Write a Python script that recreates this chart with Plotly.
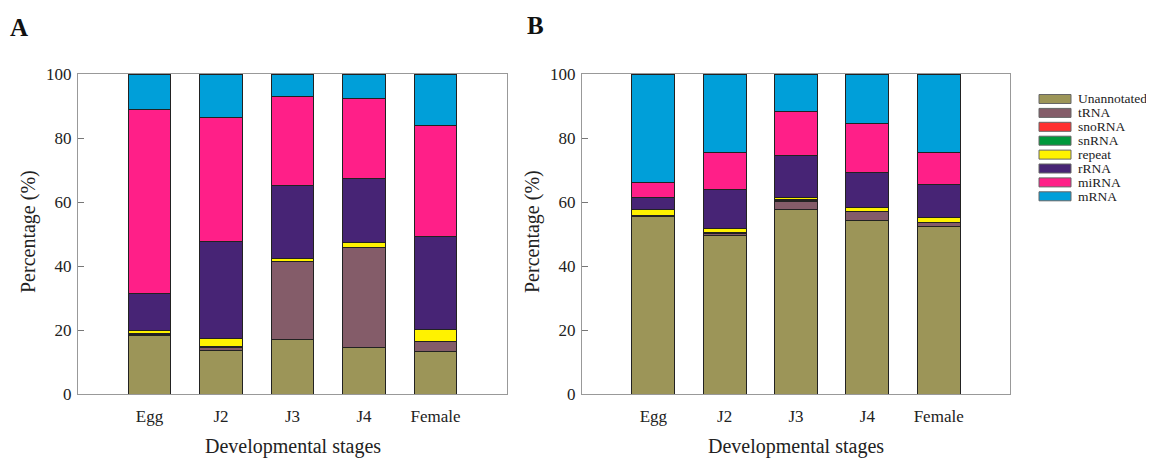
import plotly.graph_objects as go

stages = ["Egg", "J2", "J3", "J4", "Female"]
series_names = ["Unannotated", "tRNA", "snoRNA", "snRNA", "repeat", "rRNA", "miRNA", "mRNA"]
colors = ["#9C9558", "#845C69", "#FF3030", "#00983A", "#FFF200", "#472475", "#FF1F88", "#009FD9"]

# Panel A values (%), per series, per stage
a_unannotated = [18.2, 13.6, 16.9, 14.4, 13.4]
a_trna = [0.5, 1.0, 24.4, 31.3, 2.9]
a_snorna = [0.05, 0.05, 0.05, 0.05, 0.05]
a_snrna = [0.05, 0.05, 0.05, 0.05, 0.05]
a_repeat = [0.9, 2.8, 0.9, 1.7, 3.7]
a_rrna = [11.7, 30.2, 23.0, 20.0, 29.1]
a_mirna = [57.5, 38.6, 27.8, 24.8, 34.8]
a_mrna = [11.1, 13.7, 6.9, 7.7, 16.0]

# Panel B values (%)
b_unannotated = [55.4, 49.4, 57.7, 54.2, 52.5]
b_trna = [0.3, 0.9, 2.6, 2.8, 1.1]
b_snorna = [0.05, 0.05, 0.05, 0.05, 0.05]
b_snrna = [0.05, 0.05, 0.3, 0.05, 0.05]
b_repeat = [1.9, 1.4, 0.85, 1.3, 1.5]
b_rrna = [3.6, 12.0, 13.0, 10.8, 10.4]
b_mirna = [4.9, 11.8, 13.7, 15.3, 10.0]
b_mrna = [33.8, 24.4, 11.8, 15.5, 24.4]

y_ticks = [0, 20, 40, 60, 80, 100]

panel_a = [a_unannotated, a_trna, a_snorna, a_snrna, a_repeat, a_rrna, a_mirna, a_mrna]
panel_b = [b_unannotated, b_trna, b_snorna, b_snrna, b_repeat, b_rrna, b_mirna, b_mrna]

# the page has an 8px body margin, so the figure fills the rest of the window
OFF = 8
W, H = 1154 - OFF, 458 - OFF
FONT = "Liberation Serif"

fig = go.Figure()

for axis_idx, panel in [("", panel_a), ("2", panel_b)]:
    for name, col, vals in zip(series_names, colors, panel):
        fig.add_trace(go.Bar(
            x=list(range(len(stages))), y=vals, name=name,
            marker=dict(color=col, line=dict(color="#222222", width=1)),
            width=0.6, showlegend=False,
            xaxis="x" + axis_idx, yaxis="y" + axis_idx,
        ))


def px_x(p):
    return (p - OFF) / W


def px_y(p):
    return 1 - (p - OFF) / H


ydom = [px_y(394), px_y(74)]
common_x = dict(range=[-1, 5], tickmode="array", tickvals=list(range(len(stages))),
                ticktext=stages, showline=True, linecolor="#999999", linewidth=1.3,
                mirror=True, ticks="", showgrid=False, zeroline=False,
                ticklabelstandoff=6, automargin=False,
                tickfont=dict(family=FONT, size=17, color="#222"), fixedrange=True)
common_y = dict(range=[0, 100], tickmode="array", tickvals=y_ticks,
                showline=True, linecolor="#999999", linewidth=1.3, mirror=True,
                ticks="inside", ticklen=6, tickcolor="#777777", showgrid=False,
                zeroline=False, automargin=False, ticklabelstandoff=2,
                tickfont=dict(family=FONT, size=17, color="#222"),
                fixedrange=True)

fig.update_layout(
    width=W, height=H, barmode="stack", bargap=0.4,
    plot_bgcolor="white", paper_bgcolor="white",
    margin=dict(l=0, r=0, t=0, b=0, autoexpand=False),
    xaxis=dict(domain=[px_x(78), px_x(507)], anchor="y", **common_x),
    yaxis=dict(domain=ydom, anchor="x", **common_y),
    xaxis2=dict(domain=[px_x(582), px_x(1010)], anchor="y2", **common_x),
    yaxis2=dict(domain=ydom, anchor="x2", **common_y),
    font=dict(family=FONT, color="#222"),
)

annotations = []
# panel letters
annotations.append(dict(text="<b>A</b>", x=px_x(8), y=px_y(27), xref="paper", yref="paper",
                        xanchor="left", yanchor="middle", showarrow=False,
                        font=dict(family=FONT, size=25, color="#111")))
annotations.append(dict(text="<b>B</b>", x=px_x(525), y=px_y(25), xref="paper", yref="paper",
                        xanchor="left", yanchor="middle", showarrow=False,
                        font=dict(family=FONT, size=25, color="#111")))
# axis titles
for xc, ytx in [(292.5, 28), (796, 532)]:
    annotations.append(dict(text="Developmental stages", x=px_x(xc), y=px_y(446),
                            xref="paper", yref="paper", xanchor="center", yanchor="middle",
                            showarrow=False, font=dict(family=FONT, size=20, color="#222")))
    annotations.append(dict(text="Percentage (%)", x=px_x(ytx), y=px_y(232),
                            xref="paper", yref="paper", xanchor="center", yanchor="middle",
                            textangle=-90, showarrow=False,
                            font=dict(family=FONT, size=20, color="#222")))

# custom legend
shapes = []
for i, (name, col) in enumerate(zip(series_names, colors)):
    yc = 99 + 13.9 * i
    shapes.append(dict(type="rect", xref="paper", yref="paper",
                       x0=px_x(1039), x1=px_x(1071), y0=px_y(yc + 4.5), y1=px_y(yc - 4.5),
                       fillcolor=col, line=dict(color="#666666", width=1)))
    annotations.append(dict(text=name, x=px_x(1076), y=px_y(yc), xref="paper", yref="paper",
                            xanchor="left", yanchor="middle", showarrow=False,
                            font=dict(family=FONT, size=13.5, color="#222")))

fig.update_layout(annotations=annotations, shapes=shapes)

fig.write_html("out.html")
